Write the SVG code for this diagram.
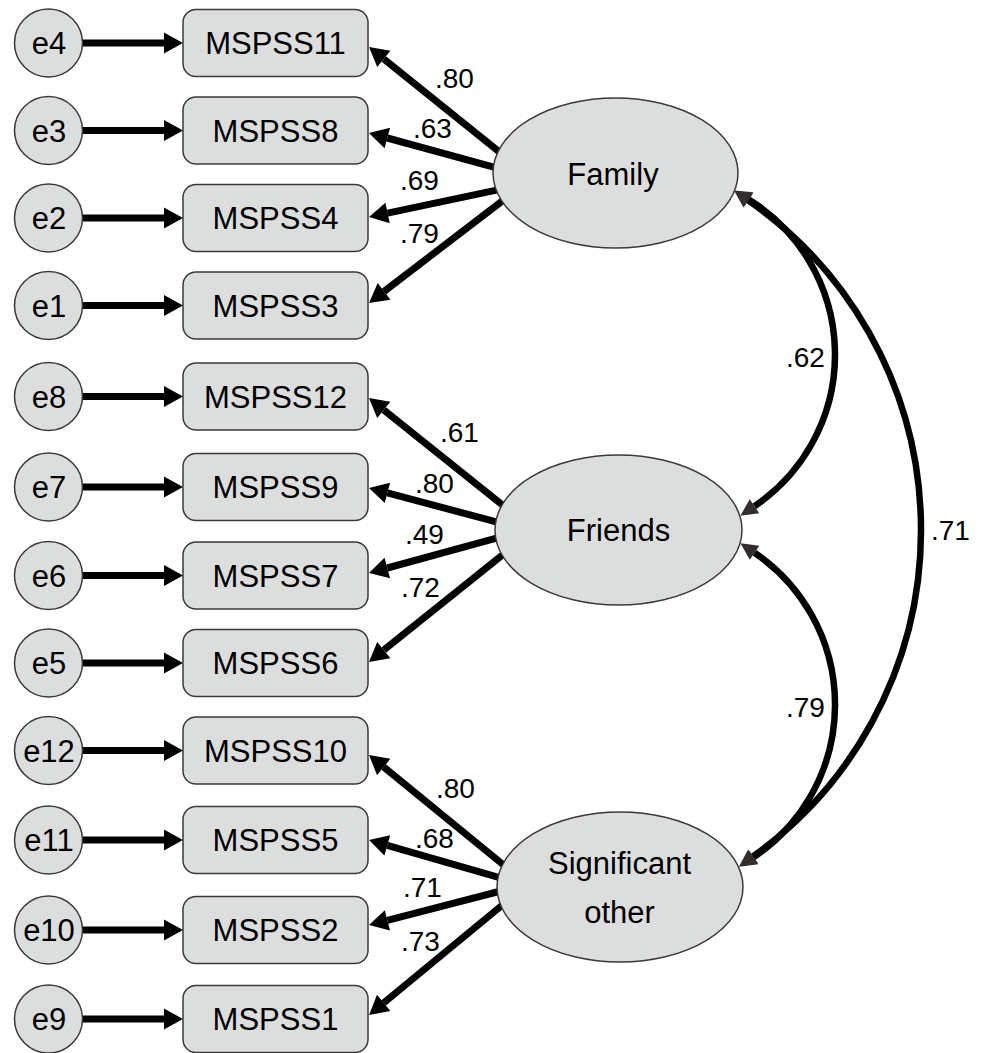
<svg xmlns="http://www.w3.org/2000/svg" width="983" height="1053" viewBox="0 0 983 1053">
<style>
.err{fill:#dcdddd;stroke:#3a3a3a;stroke-width:1.5}
.box{fill:#dcdddd;stroke:#3a3a3a;stroke-width:1.5}
.lat{fill:#dcdddd;stroke:#3a3a3a;stroke-width:1.5}
.t{font-family:"Liberation Sans",Arial,sans-serif;font-size:31px;fill:#000;text-anchor:middle}
.lb{font-family:"Liberation Sans",Arial,sans-serif;font-size:28px;fill:#000}
.ar{fill:none;stroke:#000;stroke-width:7;marker-end:url(#ah)}
.cv{fill:none;stroke:#000;stroke-width:6.5;marker-start:url(#ag);marker-end:url(#ag)}
</style>
<defs>
<marker id="ah" markerUnits="userSpaceOnUse" markerWidth="20" markerHeight="22" refX="0" refY="10.5" orient="auto" overflow="visible">
<path d="M0,0 L19,10.5 L0,21 z" fill="#000"/>
</marker>
<marker id="ag" markerUnits="userSpaceOnUse" markerWidth="18" markerHeight="18" refX="0" refY="8.5" orient="auto-start-reverse" overflow="visible">
<path d="M0,0 L17,8.5 L0,17 z" fill="#332d2e"/>
</marker>
</defs>
<rect width="983" height="1053" fill="#fff"/>
<g id="connectors">
<path class="ar" d="M82,43 H164"/>
<path class="ar" d="M82,130.5 H164"/>
<path class="ar" d="M82,218 H164"/>
<path class="ar" d="M82,305.5 H164"/>
<path class="ar" d="M82,396.5 H164"/>
<path class="ar" d="M82,487 H164"/>
<path class="ar" d="M82,575.5 H164"/>
<path class="ar" d="M82,663 H164"/>
<path class="ar" d="M82,750.5 H164"/>
<path class="ar" d="M82,840 H164"/>
<path class="ar" d="M82,930 H164"/>
<path class="ar" d="M82,1019 H164"/>
<path class="ar" d="M503.2,155 L383.8,58.9"/>
<path class="ar" d="M504.7,170.1 L387.3,138"/>
<path class="ar" d="M504.8,188.3 L387.6,213.1"/>
<path class="ar" d="M503.4,200.1 L384.1,291.4"/>
<path class="ar" d="M506.2,508 L383.8,409.9"/>
<path class="ar" d="M504.7,524.1 L387.4,492.9"/>
<path class="ar" d="M504.7,535.9 L387.3,568"/>
<path class="ar" d="M506.2,552 L383.8,650.1"/>
<path class="ar" d="M506.2,867.1 L383.7,767"/>
<path class="ar" d="M504.7,879.2 L387.3,845.3"/>
<path class="ar" d="M504.7,890 L387.4,920.3"/>
<path class="ar" d="M506.2,901.9 L383.7,1002.9"/>
<path class="cv" d="M748.8,199.4 A182.9,182.9 0 0 1 754.5,506.2"/>
<path class="cv" d="M754.5,552.8 A183.5,183.5 0 0 1 753.6,857.2"/>
<path class="cv" d="M748.2,200.4 A400.9,400.9 0 0 1 753,856.4"/>
<text class="lb" x="435" y="88">.80</text>
<text class="lb" x="413" y="138">.63</text>
<text class="lb" x="400" y="190">.69</text>
<text class="lb" x="400" y="243">.79</text>
<text class="lb" x="440" y="442">.61</text>
<text class="lb" x="415" y="493">.80</text>
<text class="lb" x="405" y="544">.49</text>
<text class="lb" x="401" y="597">.72</text>
<text class="lb" x="436" y="798">.80</text>
<text class="lb" x="415" y="848">.68</text>
<text class="lb" x="403" y="897">.71</text>
<text class="lb" x="401" y="951">.73</text>
<text class="lb" x="786" y="367">.62</text>
<text class="lb" x="931" y="540">.71</text>
<text class="lb" x="786" y="717">.79</text>
</g>
<g id="e4"><circle class="err" cx="48.5" cy="43" r="34"/><text class="t" x="49" y="54">e4</text></g>
<g id="e3"><circle class="err" cx="48.5" cy="130.5" r="34"/><text class="t" x="49" y="141.5">e3</text></g>
<g id="e2"><circle class="err" cx="48.5" cy="218" r="34"/><text class="t" x="49" y="229">e2</text></g>
<g id="e1"><circle class="err" cx="48.5" cy="305.5" r="34"/><text class="t" x="49" y="316.5">e1</text></g>
<g id="e8"><circle class="err" cx="48.5" cy="396.5" r="34"/><text class="t" x="49" y="407.5">e8</text></g>
<g id="e7"><circle class="err" cx="48.5" cy="487" r="34"/><text class="t" x="49" y="498">e7</text></g>
<g id="e6"><circle class="err" cx="48.5" cy="575.5" r="34"/><text class="t" x="49" y="586.5">e6</text></g>
<g id="e5"><circle class="err" cx="48.5" cy="663" r="34"/><text class="t" x="49" y="674">e5</text></g>
<g id="e12"><circle class="err" cx="48.5" cy="750.5" r="34"/><text class="t" x="49" y="761.5">e12</text></g>
<g id="e11"><circle class="err" cx="48.5" cy="840" r="34"/><text class="t" x="49" y="851">e11</text></g>
<g id="e10"><circle class="err" cx="48.5" cy="930" r="34"/><text class="t" x="49" y="941">e10</text></g>
<g id="e9"><circle class="err" cx="48.5" cy="1019" r="34"/><text class="t" x="49" y="1030">e9</text></g>
<g id="MSPSS11"><rect class="box" x="183" y="9.5" width="185" height="67" rx="13"/><text class="t" x="275.5" y="54">MSPSS11</text></g>
<g id="MSPSS8"><rect class="box" x="183" y="97" width="185" height="67" rx="13"/><text class="t" x="275.5" y="141.5">MSPSS8</text></g>
<g id="MSPSS4"><rect class="box" x="183" y="184.5" width="185" height="67" rx="13"/><text class="t" x="275.5" y="229">MSPSS4</text></g>
<g id="MSPSS3"><rect class="box" x="183" y="272" width="185" height="67" rx="13"/><text class="t" x="275.5" y="316.5">MSPSS3</text></g>
<g id="MSPSS12"><rect class="box" x="183" y="363" width="185" height="67" rx="13"/><text class="t" x="275.5" y="407.5">MSPSS12</text></g>
<g id="MSPSS9"><rect class="box" x="183" y="453.5" width="185" height="67" rx="13"/><text class="t" x="275.5" y="498">MSPSS9</text></g>
<g id="MSPSS7"><rect class="box" x="183" y="542" width="185" height="67" rx="13"/><text class="t" x="275.5" y="586.5">MSPSS7</text></g>
<g id="MSPSS6"><rect class="box" x="183" y="629.5" width="185" height="67" rx="13"/><text class="t" x="275.5" y="674">MSPSS6</text></g>
<g id="MSPSS10"><rect class="box" x="183" y="717" width="185" height="67" rx="13"/><text class="t" x="275.5" y="761.5">MSPSS10</text></g>
<g id="MSPSS5"><rect class="box" x="183" y="806.5" width="185" height="67" rx="13"/><text class="t" x="275.5" y="851">MSPSS5</text></g>
<g id="MSPSS2"><rect class="box" x="183" y="896.5" width="185" height="67" rx="13"/><text class="t" x="275.5" y="941">MSPSS2</text></g>
<g id="MSPSS1"><rect class="box" x="183" y="985.5" width="185" height="67" rx="13"/><text class="t" x="275.5" y="1030">MSPSS1</text></g>
<g id="Family"><ellipse class="lat" cx="615.5" cy="173" rx="122.5" ry="75"/><text class="t" x="613" y="185">Family</text></g>
<g id="Friends"><ellipse class="lat" cx="618.5" cy="530" rx="123.5" ry="75"/><text class="t" x="618.5" y="541">Friends</text></g>
<g id="SignificantOther"><ellipse class="lat" cx="620" cy="887" rx="123" ry="75"/><text class="t" x="619.5" y="874">Significant</text><text class="t" x="619.5" y="922.5">other</text></g>
</svg>
